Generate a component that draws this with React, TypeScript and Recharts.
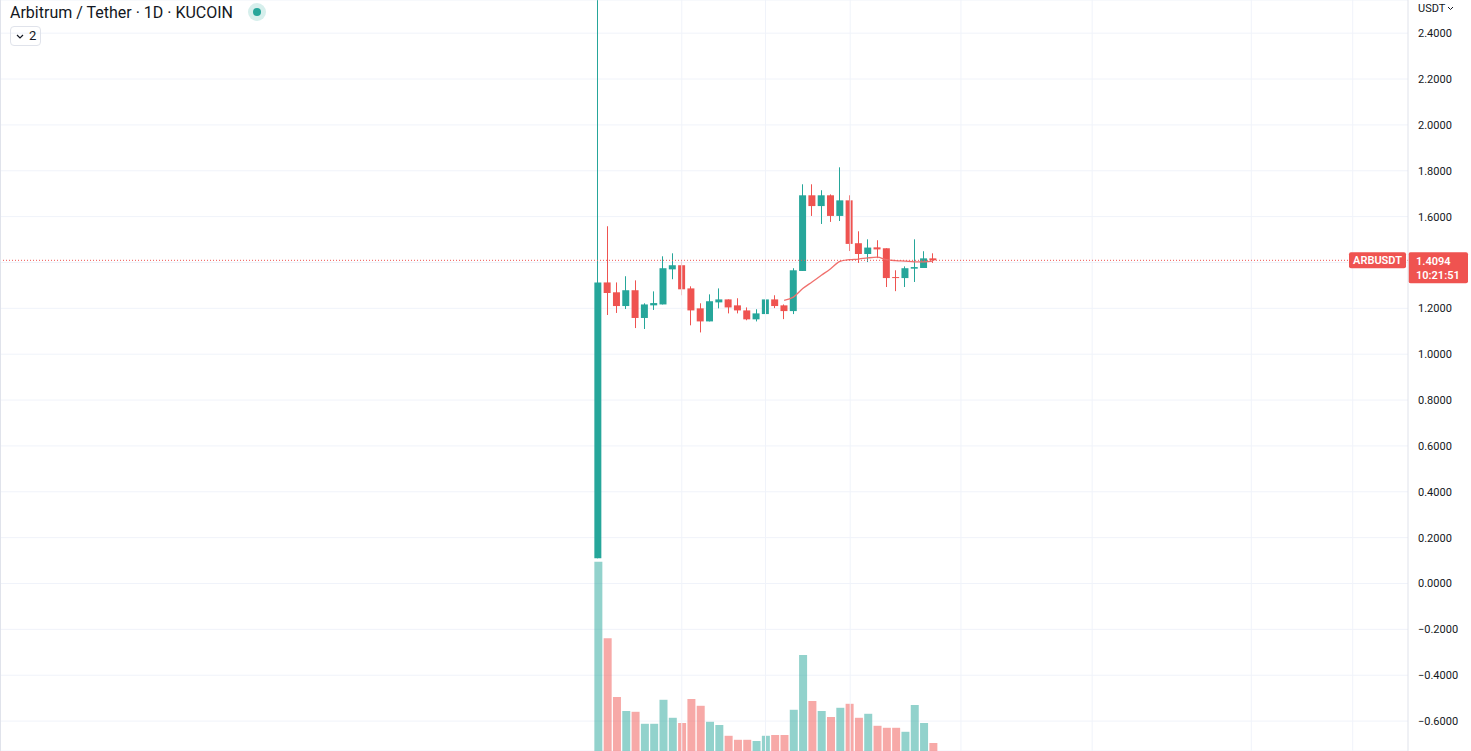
import React from 'react';
import {
  Bar,
  CartesianGrid,
  Cell,
  ComposedChart,
  Line,
  ReferenceLine,
  XAxis,
  YAxis,
} from 'recharts';

// ARB/USDT daily candles, KuCoin
const opens = [
  0.11, 1.313, 1.27, 1.21, 1.279, 1.158, 1.213, 1.217, 1.37, 1.388, 1.287, 1.2, 1.143,
  1.226, 1.239, 1.213, 1.191, 1.152, 1.175, 1.239, 1.213, 1.188, 1.363, 1.693, 1.646,
  1.693, 1.603, 1.671, 1.484, 1.437, 1.466, 1.462, 1.336, 1.332, 1.373, 1.376, 1.418,
];
// first day's high runs off the top of the chart
const highs = [
  2.544, 1.558, 1.313, 1.34, 1.322, 1.222, 1.274, 1.427, 1.44, 1.405, 1.296, 1.222, 1.261,
  1.287, 1.239, 1.244, 1.204, 1.196, 1.248, 1.257, 1.217, 1.375, 1.741, 1.741, 1.715,
  1.697, 1.815, 1.693, 1.536, 1.501, 1.497, 1.462, 1.366, 1.383, 1.501, 1.449, 1.44,
];
const lows = [
  0.11, 1.171, 1.18, 1.197, 1.114, 1.11, 1.193, 1.217, 1.327, 1.257, 1.126, 1.095, 1.143,
  1.2, 1.178, 1.178, 1.148, 1.143, 1.162, 1.201, 1.153, 1.175, 1.363, 1.603, 1.568,
  1.577, 1.581, 1.45, 1.398, 1.402, 1.419, 1.293, 1.275, 1.293, 1.315, 1.376, 1.398,
];
const closes = [
  1.313, 1.267, 1.21, 1.279, 1.158, 1.217, 1.223, 1.375, 1.388, 1.283, 1.191, 1.143, 1.231,
  1.239, 1.204, 1.191, 1.152, 1.178, 1.239, 1.21, 1.188, 1.366, 1.693, 1.646, 1.693,
  1.603, 1.671, 1.481, 1.437, 1.465, 1.457, 1.332, 1.332, 1.375, 1.38, 1.418, 1.4094,
];
// volume in millions ARB
const volumes = [
  47.3, 28.2, 13.5, 10.0, 9.8, 6.8, 6.8, 12.8, 8.3, 7.0, 13.0, 11.3, 7.3, 6.5, 3.8, 2.8,
  2.8, 2.5, 3.8, 4.0, 4.0, 10.3, 24.0, 12.5, 10.0, 8.5, 10.8, 11.8, 8.3, 9.3, 6.3, 5.8,
  5.8, 4.8, 11.5, 7.0, 2.0,
];
// moving average, only drawn from day 20 on
const maValues: (number | null)[] = [
  null, null, null, null, null, null, null, null, null, null, null, null, null, null,
  null, null, null, null, null, null, 1.235, 1.249, 1.286, 1.315, 1.344, 1.373, 1.405,
  1.412, 1.415, 1.42, 1.423, 1.412, 1.408, 1.406, 1.403, 1.403, 1.406,
];

const priceTicks = [
  -0.6, -0.4, -0.2, 0, 0.2, 0.4, 0.6, 0.8, 1.0, 1.2, 1.4, 1.6, 1.8, 2.0, 2.2, 2.4,
];
// time grid lines (day index)
const timeGrid = [9, 18, 27.1, 39, 53.1, 70.2, 81.1];

const lastPrice = 1.4094;
const countdown = '10:21:51';

const UP = '#26a69a';
const DOWN = '#ef5350';
const GRID = '#f0f3fa';
const TEXT = '#131722';
const FONT = 'Roboto, "Noto Sans", sans-serif';

const rows = opens.map((open, i) => ({
  day: i,
  open,
  high: highs[i],
  low: lows[i],
  close: closes[i],
  wick: [lows[i], highs[i]],
  body: [Math.min(open, closes[i]), Math.max(open, closes[i])],
  volume: volumes[i],
  ma: maValues[i],
}));

const xDomain: [number, number] = [-64.26, 87.04];

const fmtPrice = (v: number) => v.toFixed(4).replace('-', '\u2212');

// axis label hidden where the last-price tag sits, like TradingView does
const PriceTick = (props: any) => {
  const { x, y, payload } = props;
  if (Math.abs(payload.value - lastPrice) < 0.05) return null;
  return (
    <text x={x} y={y} dy="0.355em" fill={TEXT} fontSize={11} fontFamily={FONT} textAnchor="start">
      {fmtPrice(payload.value)}
    </text>
  );
};

const PriceTag = ({ viewBox }: { viewBox?: any }) => {
  const right = viewBox ? viewBox.x + viewBox.width : 1408;
  const y = viewBox ? viewBox.y : 261;
  return (
    <g fontFamily={FONT} fontSize={11}>
      <rect x={right - 59} y={y - 8} width={57} height={16} rx={2} fill={DOWN} />
      <text x={right - 30.5} y={y} dy="0.35em" textAnchor="middle" fill="#fff" fontWeight={600}>
        ARBUSDT
      </text>
      <rect x={right + 0.5} y={y - 8} width={59.5} height={31} rx={2} fill={DOWN} />
      <text x={right + 8} y={y + 1} dy="0.35em" fill="#fff" fontWeight={600}>
        {fmtPrice(lastPrice)}
      </text>
      <text x={right + 8} y={y + 15} dy="0.35em" fill="#fff" fontWeight={600}>
        {countdown}
      </text>
    </g>
  );
};

const Wick = (props: any) => {
  const { x, y, width, height, payload } = props;
  const color = payload.close >= payload.open ? UP : DOWN;
  const cx = Math.round(x + width / 2 - 0.5);
  return <rect x={cx} y={y} width={1} height={Math.max(height, 1)} fill={color} />;
};

const Header = () => (
  <div style={{ position: 'absolute', left: 0, top: 0, fontFamily: FONT, color: TEXT, pointerEvents: 'none' }}>
    <div style={{ position: 'absolute', left: 10, top: 3, fontSize: 16, whiteSpace: 'nowrap', lineHeight: '20px' }}>
      Arbitrum / Tether · 1D · KUCOIN
    </div>
    <div
      style={{
        position: 'absolute',
        left: 248,
        top: 3,
        width: 18,
        height: 18,
        borderRadius: 9,
        background: '#d6efec',
      }}
    >
      <div style={{ position: 'absolute', left: 5, top: 5, width: 8, height: 8, borderRadius: 4, background: UP }} />
    </div>
    <div
      style={{
        position: 'absolute',
        left: 10,
        top: 26,
        width: 29,
        height: 18,
        border: '1px solid #e0e3eb',
        borderRadius: 4,
        fontSize: 13,
        lineHeight: '18px',
      }}
    >
      <svg width={8} height={6} style={{ position: 'absolute', left: 5, top: 7 }}>
        <path d="M1 1 L4 4 L7 1" stroke={TEXT} strokeWidth={1.2} fill="none" />
      </svg>
      <span style={{ position: 'absolute', left: 18 }}>2</span>
    </div>
  </div>
);

const AxisUnit = () => (
  <div
    style={{
      position: 'absolute',
      left: 1418,
      top: 2,
      fontFamily: FONT,
      fontSize: 11,
      color: TEXT,
      lineHeight: '14px',
      whiteSpace: 'nowrap',
    }}
  >
    USDT
    <svg width={7} height={5} style={{ marginLeft: 2, marginBottom: 1 }}>
      <path d="M1 1 L3.5 3.5 L6 1" stroke={TEXT} strokeWidth={1} fill="none" />
    </svg>
  </div>
);

export default function App() {
  return (
    <div style={{ position: 'relative', width: 1471, height: 751, background: '#fff', overflow: 'hidden' }}>
      <style>{'body{margin:0;background:#fff}'}</style>
      <ComposedChart width={1471} height={751} data={rows} margin={{ top: 0, right: 0, bottom: 0, left: 0 }}>
        <XAxis xAxisId="wick" dataKey="day" type="number" domain={xDomain} allowDataOverflow hide />
        <XAxis xAxisId="body" dataKey="day" type="number" domain={xDomain} allowDataOverflow hide />
        <XAxis xAxisId="vol" dataKey="day" type="number" domain={xDomain} allowDataOverflow hide />
        <YAxis
          yAxisId="price"
          orientation="right"
          width={63}
          domain={[-0.7305, 2.5447]}
          allowDataOverflow
          ticks={priceTicks}
          interval={0}
          tickLine={false}
          tickSize={0}
          tickMargin={10}
          axisLine={{ stroke: '#e0e3eb' }}
          tick={<PriceTick />}
        />
        <YAxis yAxisId="vol" domain={[0, 187.75]} allowDataOverflow hide />
        <CartesianGrid xAxisId="body" yAxisId="price" vertical={false} stroke={GRID} />
        {timeGrid.map(d => (
          <ReferenceLine key={d} x={d} xAxisId="body" yAxisId="price" stroke={GRID} strokeWidth={1} />
        ))}
        <Bar xAxisId="vol" yAxisId="vol" dataKey="volume" barSize={8} isAnimationActive={false}>
          {rows.map(r => (
            <Cell key={r.day} fill={r.close >= r.open ? UP : DOWN} fillOpacity={0.5} />
          ))}
        </Bar>
        <Bar xAxisId="wick" yAxisId="price" dataKey="wick" barSize={1} shape={<Wick />} isAnimationActive={false} />
        <Bar xAxisId="body" yAxisId="price" dataKey="body" barSize={7} minPointSize={1} isAnimationActive={false}>
          {rows.map(r => (
            <Cell key={r.day} fill={r.close >= r.open ? UP : DOWN} />
          ))}
        </Bar>
        <Line
          xAxisId="body"
          yAxisId="price"
          dataKey="ma"
          type="monotone"
          stroke="#f0706d"
          strokeWidth={1.3}
          dot={false}
          activeDot={false}
          connectNulls={false}
          isAnimationActive={false}
        />
        <ReferenceLine
          y={lastPrice}
          xAxisId="body"
          yAxisId="price"
          stroke={DOWN}
          strokeDasharray="1 2"
          label={<PriceTag />}
        />
      </ComposedChart>
      <div style={{ position: 'absolute', left: 0, top: 0, width: 1, height: 751, background: '#e0e3eb' }} />
      <Header />
      <AxisUnit />
    </div>
  );
}
